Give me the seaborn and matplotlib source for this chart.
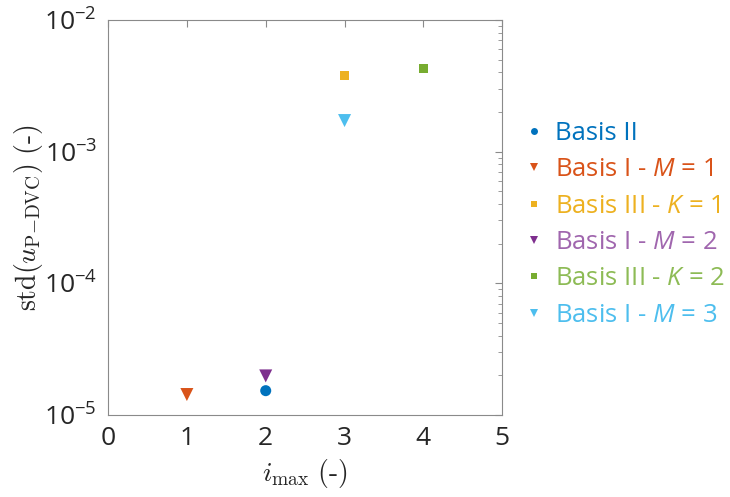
import matplotlib
matplotlib.use("Agg")
import matplotlib.pyplot as plt
import seaborn as sns
import pandas as pd
from matplotlib.lines import Line2D

# ---- data ----
labels = ["Basis II", "Basis I - $M$ = 1", "Basis III - $K$ = 1",
          "Basis I - $M$ = 2", "Basis III - $K$ = 2", "Basis I - $M$ = 3"]
x_vals = [2, 1, 3, 2, 4, 3]
y_vals = [1.53e-5, 1.43e-5, 3.78e-3, 1.98e-5, 4.25e-3, 1.72e-3]
markers = ["o", "v", "s", "v", "s", "v"]
colors = ["#0072BD", "#D95319", "#EDB120", "#7E2F8E", "#77AC30", "#4DBEEE"]
text_colors = ["#0072BD", "#D95319", "#EDB120", "#A066AE", "#8DBB55", "#4DBEEE"]
sizes = [63, 88, 42, 88, 42, 88]
x_ticks = [0, 1, 2, 3, 4, 5]

sns.set_theme(style="white")
plt.rcParams['font.family'] = ['Open Sans', 'DejaVu Sans']
plt.rcParams['mathtext.fontset'] = 'custom'
plt.rcParams['mathtext.rm'] = 'Open Sans'
plt.rcParams['mathtext.it'] = 'Open Sans:italic'
plt.rcParams['mathtext.bf'] = 'Open Sans:bold'

df = pd.DataFrame({"x": x_vals, "y": y_vals, "label": labels})

fig = plt.figure(figsize=(7.30, 4.97), dpi=100)
ax = fig.add_axes([0.148, 0.165, 0.540, 0.795])

for i, row in df.iterrows():
    sns.scatterplot(x=[row["x"]], y=[row["y"]], ax=ax, marker=markers[i],
                    color=colors[i], s=sizes[i], edgecolor="none", legend=False,
                    zorder=3)

ax.set_yscale("log")
ax.set_xlim(0, 5)
ax.set_ylim(1e-5, 1e-2)
ax.set_xticks(x_ticks)
ax.set_xticklabels([str(t) for t in x_ticks])

edge = "#8a8a8a"
for sp in ax.spines.values():
    sp.set_color(edge)
    sp.set_linewidth(0.8)
ax.tick_params(axis="both", which="both", direction="in", top=True, right=True,
               color=edge, labelcolor="#262626", labelsize=19)
ax.tick_params(axis="both", which="major", length=5, width=0.8, pad=8)
ax.tick_params(axis="y", which="minor", length=3, width=0.6)
ax.tick_params(axis="x", which="minor", length=0)

xl = ax.set_xlabel(r"$i_{\max}\ \mathrm{(\text{-})}$", fontsize=20, color="#262626", labelpad=4)
xl.set_math_fontfamily("cm")
yl = ax.set_ylabel(r"$\mathrm{std}(u_{\mathrm{P{-}DVC}})\ \mathrm{(\text{-})}$", fontsize=20,
                   color="#262626", labelpad=-1)
yl.set_math_fontfamily("cm")

handles = [Line2D([], [], linestyle="none", marker=m, color=c, markersize=ms, markeredgewidth=0)
           for m, c, ms in zip(markers, colors, [5, 6, 4.5, 6, 4.5, 6])]
leg = ax.legend(handles, labels, loc="upper left", bbox_to_anchor=(1.035, 0.77),
                frameon=False, fontsize=18.5, handlelength=0.6, handletextpad=0.5,
                labelspacing=0.44, borderaxespad=0)
for t, c in zip(leg.get_texts(), text_colors):
    t.set_color(c)

fig.savefig("out.png", dpi=100)
